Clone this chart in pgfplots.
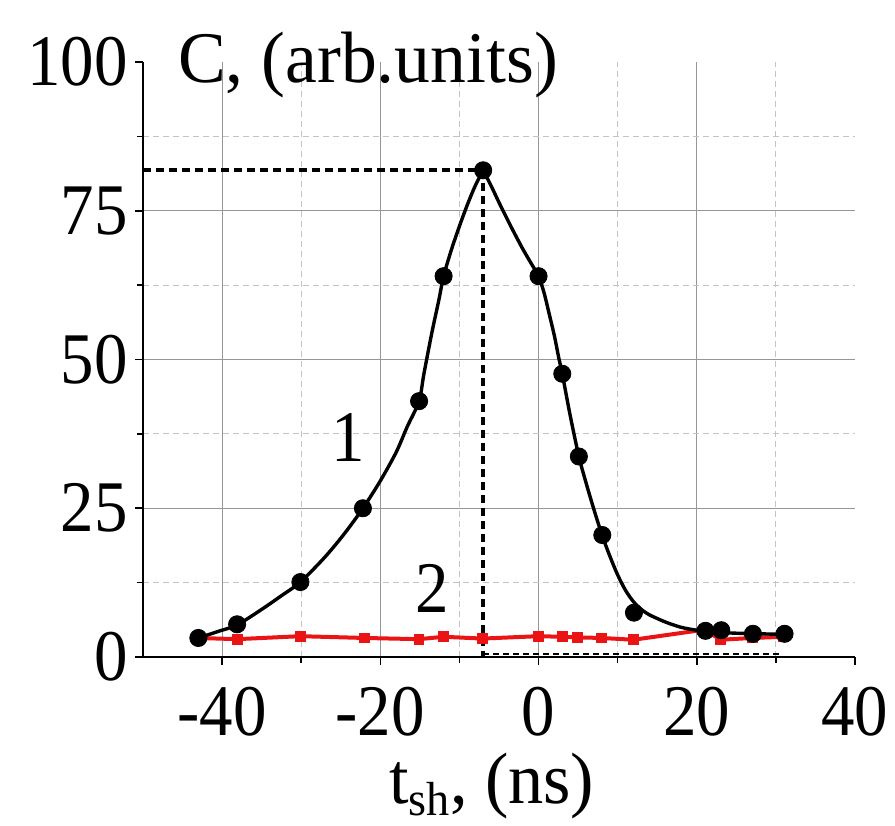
\documentclass[border=0pt]{standalone}
\usepackage{fontspec}
\setmainfont[FakeStretch=0.92]{Liberation Serif}
\usepackage{graphicx}
\usepackage{pgfplots}
\pgfplotsset{compat=1.18}
\definecolor{gridmaj}{RGB}{150,150,150}
\definecolor{gridmin}{RGB}{195,195,195}
\definecolor{myred}{RGB}{235,20,20}
\newcommand{\bigfont}{\fontsize{36.5}{38}\selectfont}
\begin{document}
\begin{tikzpicture}
\begin{axis}[
  scale only axis, width=356bp, height=297.5bp,
  xmin=-50, xmax=40, ymin=0, ymax=100,
  axis lines=left, axis line style={line width=1.1bp, -},
  xtick={-40,-20,0,20}, extra x ticks={40},
  ytick={0,25,50,75}, extra y ticks={100},
  extra tick style={grid=none},
  minor xtick={-30,-10,10,30}, minor ytick={12.5,37.5,62.5,87.5},
  grid=both,
  major grid style={gridmaj, line width=0.5bp},
  minor grid style={gridmin, dash pattern=on 3bp off 2bp, line width=0.5bp},
  tick align=outside, major tick length=4bp, minor tick length=3bp,
  tick style={black, line width=0.8bp},
  /pgf/number format/assume math mode=true,
  tick label style={font=\bigfont},
  yticklabel style={inner sep=0pt, xshift=-3.5bp},
  xticklabel style={inner sep=0pt, yshift=-11bp},
  clip=false,
]
% dashed guide lines
\addplot[black, line width=1.8bp, dash pattern=on 4bp off 2.5bp] coordinates {(-50,81.8) (-7,81.8)};
\addplot[black, line width=1.8bp, dash pattern=on 4bp off 2.5bp] coordinates {(-7,81.8) (-7,0)};
\addplot[black, line width=0.6bp, dash pattern=on 3bp off 2bp] coordinates {(-7,0.5) (30.5,0.5)};
% curve 2 (red)
\addplot[myred, line width=2bp, mark=square*, mark size=1.7bp] coordinates {
(-43,3.2) (-38.1,3.0) (-30.1,3.5) (-22,3.2) (-15.1,3.0) (-12,3.4) (-7.1,3.1) (0,3.5) (3,3.4) (4.9,3.3) (8,3.2) (12,2.9) (21,4.6) (23,2.9) (27,3.2) (31,3.4)};
% curve 1 fit (left and right of peak)
\addplot[black, line width=1.7bp, smooth] coordinates {
(-43,3.2) (-40.5,4.3) (-38.1,5.4) (-35,8.0) (-32.5,10.3) (-30.1,12.6) (-27,16.8) (-24.5,20.8) (-22.2,25.0) (-20,29.6) (-18,34.4) (-16.6,38.7) (-15.1,43.0) (-14.5,47.5) (-13.5,54.4) (-12.6,60.0) (-12,64.0) (-11,68.5) (-10,72.4) (-9,76.0) (-8,79.2) (-7,81.8)};
\addplot[black, line width=1.7bp, smooth] coordinates {
(-7,81.8) (-6,79.2) (-5,76.4) (-4,73.7) (-3,71.1) (-2,68.6) (-1,66.3) (0,64.0) (0.7,61.2) (1.43,57.2) (2,54.0) (2.57,50.2) (3,47.6) (4,40.6) (5.1,33.7) (6,29.3) (7,24.8) (8,20.6) (9,17.0) (10,13.8) (11,11.2) (12,9.3) (13,8.0) (14,7.1) (16,5.9) (18,5.0) (20,4.5) (22,4.2) (25,4.0) (28,3.9) (31,3.8)};
% curve 1 data points
\addplot[only marks, mark=*, mark size=4.3bp, black] coordinates {
(-43,3.2) (-38.1,5.5) (-30.1,12.6) (-22.2,25.0) (-15.1,43.0) (-12,64.0) (-7,81.8) (0,64.0) (3,47.6) (5.1,33.7) (8.06,20.5) (12.06,7.45) (21.1,4.4) (23.1,4.5) (27.1,3.9) (31.1,3.9)};
\node[anchor=base, font=\bigfont] at (axis cs:-24.1,32.8) {1};
\node[anchor=base, font=\bigfont] at (axis cs:-13.4,7.4) {2};
\node[anchor=base west, font=\bigfont, inner sep=0pt] at (axis cs:-45.6,96.5) {\scalebox{1.07}[1]{C, (arb.units)}};
\node[anchor=base west, font=\bigfont, inner sep=0pt] at (axis cs:-18.9,-24.6) {\scalebox{1.05}[1]{t\raisebox{-6bp}{\fontsize{24}{24}\selectfont sh}, (ns)}};
\coordinate (ll) at (rel axis cs:-0.2008,-0.2824);
\coordinate (ur) at (rel axis cs:1.0562,1.1042);
\end{axis}
\pgfresetboundingbox
\path (ll) rectangle (ur);
\end{tikzpicture}
\end{document}
